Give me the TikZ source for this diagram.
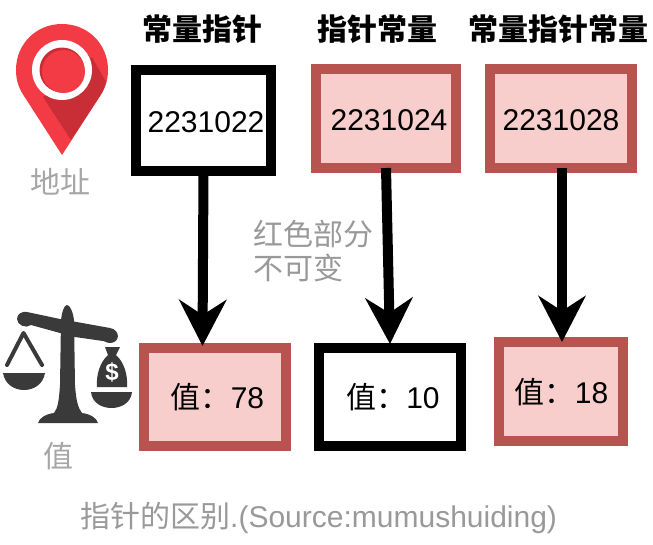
\documentclass[tikz,border=0pt]{standalone}
\usepackage{fontspec}
\setmainfont{Liberation Sans}
\newfontfamily\cjk{Noto Sans CJK SC}
\usetikzlibrary{arrows.meta}
\definecolor{rfill}{HTML}{F8CECC}
\definecolor{rline}{HTML}{B85450}
\definecolor{pinred}{HTML}{F23B45}
\definecolor{pindark}{HTML}{C92E36}
\definecolor{scalegray}{HTML}{3A3A3A}
\definecolor{softgray}{HTML}{A6A6A6}
\definecolor{midgray}{HTML}{999999}
\tikzset{
  box/.style={draw=black,fill=white,line width=10pt,inner sep=0pt,outer sep=0pt,
    font=\fontsize{30}{30}\selectfont,text height=23pt,text depth=0pt},
  redbox/.style={box,draw=rline,fill=rfill},
  link/.style={line width=10pt,draw=black,-{Stealth[length=46pt,width=47pt,inset=15pt]}},
  title/.style={inner sep=0pt,font=\cjk\bfseries\fontsize{30}{30}\selectfont},
  note/.style={inner sep=0pt,font=\cjk\fontsize{30}{30}\selectfont,text=softgray},
}
\begin{document}
\begin{tikzpicture}[x=1pt,y=-1pt]
\useasboundingbox (0,0) rectangle (653,544);
% map pin
\fill[pinred] (62,155) -- (24,96) .. controls (18,87) and (16,79) .. (16,70)
  .. controls (16,44) and (36,24) .. (62,24) .. controls (88,24) and (108,44) .. (108,70)
  .. controls (108,79) and (106,87) .. (100,96) -- cycle;
\fill[pindark] (43,97) -- (71,140) -- (100,96) .. controls (103,91) and (105,87) .. (106,82) -- (92,57) -- cycle;
\fill[white] (62,70) circle[radius=30];
\fill[pindark] (62,70) circle[radius=22.5];
\fill[pinred] (63.5,71.5) circle[radius=21.5];
% scales
\fill[scalegray] (67,305) .. controls (64,305) and (62,312) .. (61,320)
  -- (60,385) .. controls (59,400) and (58,408) .. (54,413)
  .. controls (46,414) and (39,418) .. (38,423) -- (98,423)
  .. controls (97,418) and (90,414) .. (82,413)
  .. controls (78,408) and (76,400) .. (75,385)
  -- (74,320) .. controls (73,312) and (70,305) .. (67,305) -- cycle;
\fill[scalegray] (27,312) -- (60,319) -- (110,328)
  .. controls (121,330) and (120,343) .. (110,343)
  .. controls (106,343) and (103,340) .. (103,341)
  -- (75,337) -- (60,333) -- (31,325) .. controls (26,329) and (17,325) .. (17,319)
  .. controls (17,314) and (22,311) .. (27,312) -- cycle;
\draw[scalegray,line width=4pt,line cap=round,line join=round] (7,365) -- (23.5,333) -- (42,365);
\fill[scalegray] (3,373) -- (45,373) .. controls (43,385) and (33,390) .. (24,390)
  .. controls (15,390) and (5,385) .. (3,373) -- cycle;
\fill[scalegray] (91,392) -- (132,392) .. controls (131,403) and (121,408) .. (111.5,408)
  .. controls (102,408) and (92,403) .. (91,392) -- cycle;
\fill[scalegray] (105,347) -- (120,347) -- (116,355) .. controls (124,362) and (128,375) .. (127,387)
  -- (97,387) .. controls (96,375) and (100,362) .. (108,355) -- cycle;
\node[inner sep=0pt,text=white,font=\bfseries\fontsize{24}{24}\selectfont] (dollar) at (112,372) {\$};
% boxes
\node[box,minimum width=135pt,minimum height=101pt] (a1) at (203.5,120.5) {\hspace*{5pt}2231022};
\node[redbox,minimum width=140pt,minimum height=99pt] (a2) at (386,118.5) {\hspace*{6pt}2231024};
\node[redbox,minimum width=142pt,minimum height=99pt] (a3) at (561,118.5) {2231028};
\node[redbox,minimum width=142pt,minimum height=98pt] (v1) at (215,397) {\hspace*{5pt}{\cjk 值：}78};
\node[box,minimum width=142pt,minimum height=98pt] (v2) at (390,397) {\hspace*{6pt}{\cjk 值：}10};
\node[redbox,minimum width=124pt,minimum height=99pt] (v3) at (561,391.5) {\hspace*{1pt}{\cjk 值：}18};
% connectors
\draw[link] (a1.south) -- ([xshift=-1pt,yshift=2pt]v1.north -| a1.south);
\draw[link] (a2.south) -- ([yshift=4pt]v2.north);
\draw[link] ([xshift=1pt]a3.south) -- ([xshift=1pt]v3.north);
% titles
\node[title] (t1) at (202,29) {常量指针};
\node[title] (t2) at (377,29) {指针常量};
\node[title] (t3) at (558,29) {常量指针常量};
% notes
\node[note] (addr) at (60,182) {地址};
\node[note] (val) at (58.5,456) {值};
\node[note,text=midgray,anchor=west] (n1) at (253,234) {红色部分};
\node[note,text=midgray,anchor=west] (n2) at (253,268) {不可变};
\node[note,text=midgray,anchor=west] (cap) at (80,518) {指针的区别{\fontspec{Liberation Sans}.(Source:mumushuiding)}};
\end{tikzpicture}
\end{document}
